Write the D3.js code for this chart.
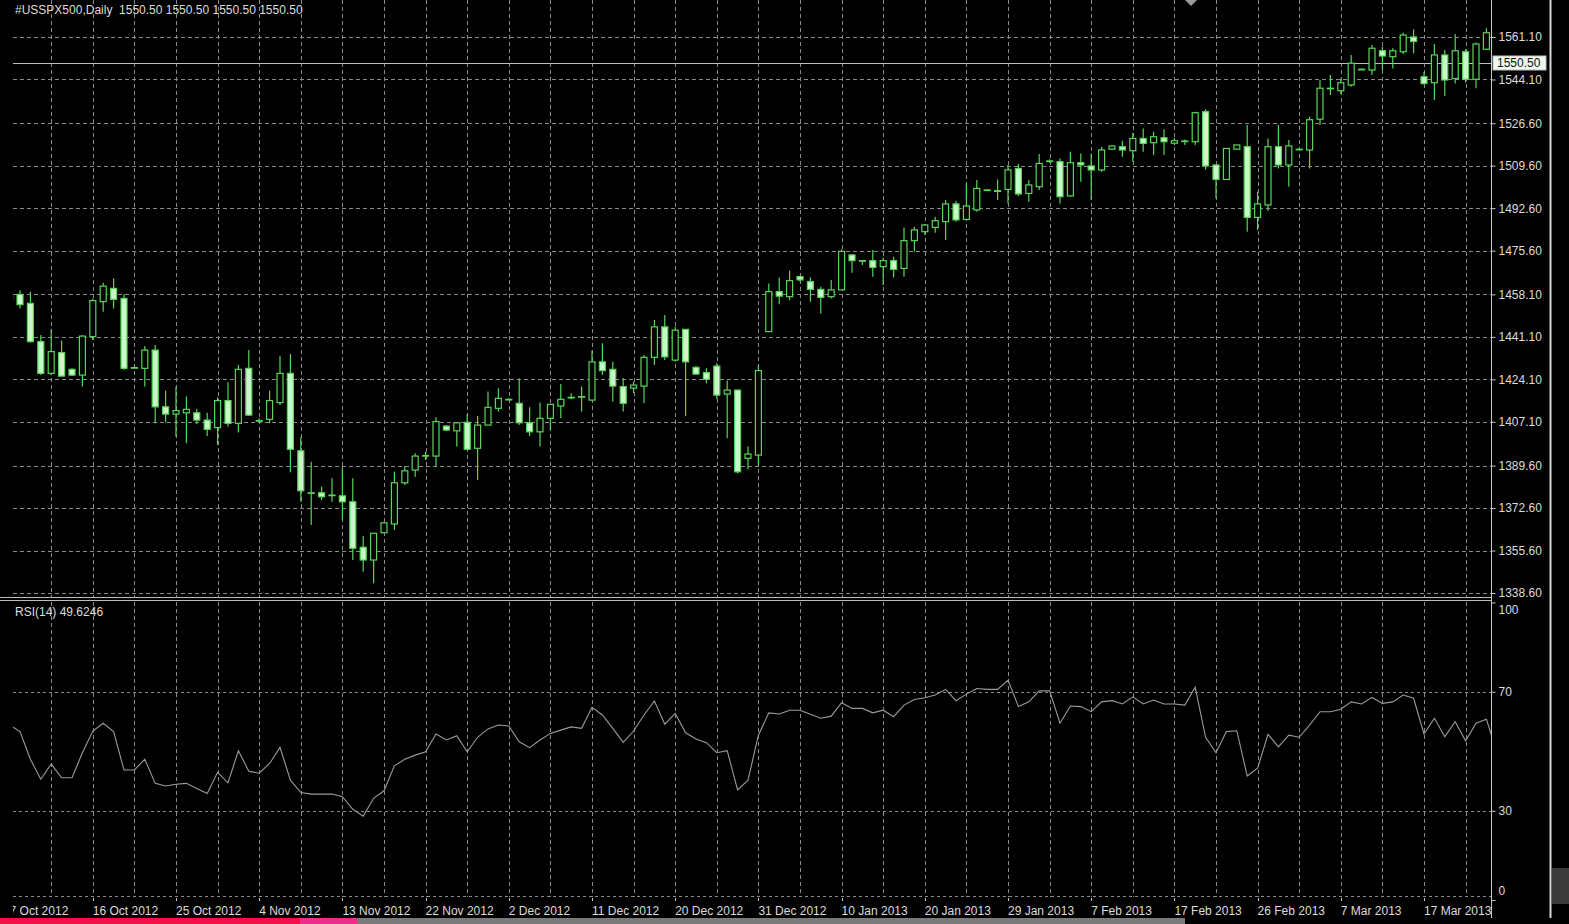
<!DOCTYPE html>
<html><head><meta charset="utf-8">
<script src="https://cdn.jsdelivr.net/npm/d3@7/dist/d3.min.js"></script>
<style>
html,body{margin:0;padding:0;background:#000;overflow:hidden}
svg{display:block}
text{font-family:"Liberation Sans",Arial,sans-serif}
</style></head><body>
<svg id="chart" width="1569" height="924"></svg>
<script>
// ---------------- DATA ----------------
const symbolTitle = "#USSPX500,Daily  1550.50 1550.50 1550.50 1550.50";
const rsiTitle = "RSI(14) 49.6246";
const lastPrice = 1550.50;

// one entry per daily bar (first bar is cut by the left edge, last is the live bar past the right edge)
const opens = [1456.0,
1458.1,1454.5,1439.2,1426.5,1434.8,1428.1,1425.8,1441.2,1455.2,1460.5,
1456.5,1428.8,1428.5,1435.8,1413.1,1410.2,1410.7,1410.7,1407.8,1404.8,
1415.6,1406.5,1428.5,1407.6,1408.1,1414.8,1426.5,1395.5,1378.7,1378.7,
1377.8,1377.5,1375.1,1356.9,1351.8,1362.7,1366.2,1382.7,1387.8,1393.6,
1393.4,1405.4,1403.5,1406.9,1396.5,1405.8,1412.5,1416.1,1414.5,1406.7,
1403.1,1408.5,1413.4,1416.9,1417.2,1415.8,1431.1,1428.1,1421.2,1420.6,
1421.4,1432.9,1445.1,1431.8,1444.1,1428.9,1426.8,1429.4,1418.2,1419.8,
1392.5,1393.8,1443.2,1459.2,1457.2,1465.2,1463.2,1460.1,1457.2,1459.9,
1473.9,1471.6,1471.6,1469.2,1471.6,1468.5,1479.6,1483.2,1484.9,1487.2,
1494.3,1488.1,1491.9,1499.9,1499.6,1500.1,1508.5,1498.5,1501.2,1511.5,
1511.2,1497.5,1510.8,1509.5,1507.9,1516.2,1517.2,1515.6,1520.5,1518.8,
1520.8,1518.6,1519.5,1519.2,1531.2,1509.9,1504.1,1516.2,1517.2,1488.9,
1493.9,1517.2,1509.9,1516.2,1515.9,1528.2,1540.6,1539.6,1541.9,1548.2,
1547.9,1555.6,1553.2,1555.2,1561.1,1545.2,1542.8,1553.9,1544.5,1555.2,
1544.2,1556.2,
1550.5];
const highs = [1461.0,
1459.8,1459.2,1441.8,1444.1,1439.6,1428.5,1441.8,1456.5,1462.8,1464.5,
1458.2,1429.4,1437.4,1437.8,1419.5,1421.2,1417.2,1412.2,1410.7,1416.9,
1422.9,1429.8,1435.8,1408.5,1419.5,1433.4,1434.2,1400.9,1391.1,1381.1,
1384.5,1388.9,1384.5,1361.4,1362.5,1366.7,1387.1,1389.4,1394.5,1395.1,
1408.9,1405.7,1406.7,1410.2,1409.4,1419.2,1420.5,1416.5,1424.5,1412.9,
1414.8,1414.1,1422.2,1418.5,1421.2,1435.6,1438.5,1431.1,1424.5,1423.2,
1433.8,1447.8,1449.8,1445.1,1444.1,1429.4,1428.5,1430.5,1423.6,1420.0,
1397.2,1429.8,1462.5,1464.9,1467.6,1465.5,1464.9,1461.2,1463.9,1476.2,
1473.9,1471.8,1475.9,1472.9,1473.2,1484.9,1485.2,1486.3,1489.2,1495.9,
1495.6,1502.5,1503.9,1500.3,1504.1,1509.9,1510.3,1503.9,1514.3,1512.2,
1512.5,1515.2,1514.5,1514.5,1517.2,1517.6,1519.6,1522.8,1524.5,1523.2,
1524.2,1520.7,1520.1,1531.2,1532.2,1509.9,1516.5,1517.9,1525.9,1499.2,
1520.5,1525.9,1519.9,1516.5,1529.2,1543.9,1545.9,1544.5,1553.9,1548.5,
1557.9,1557.2,1556.6,1562.8,1564.2,1547.2,1558.3,1555.9,1562.3,1556.2,
1558.9,1564.6,
1550.5];
const lows = [1450.0,
1452.5,1438.8,1425.8,1425.8,1425.2,1425.4,1421.2,1439.8,1451.2,1452.5,
1427.8,1428.5,1421.2,1406.5,1406.8,1401.1,1398.5,1406.2,1401.4,1397.8,
1405.2,1402.8,1409.4,1407.1,1406.5,1413.8,1386.9,1375.1,1365.8,1375.8,
1375.1,1368.0,1351.8,1347.1,1342.5,1362.7,1363.8,1381.8,1385.1,1391.8,
1389.1,1403.4,1397.2,1396.1,1383.8,1405.8,1411.2,1415.9,1405.8,1401.4,
1397.2,1403.8,1408.5,1416.1,1411.2,1415.6,1425.8,1415.2,1411.2,1418.6,
1414.5,1429.8,1431.8,1431.1,1409.4,1426.2,1422.5,1416.1,1400.5,1386.5,
1388.1,1389.1,1443.2,1454.2,1455.8,1463.2,1455.2,1450.5,1456.5,1459.9,
1466.8,1469.9,1465.2,1461.8,1464.9,1465.2,1475.2,1481.9,1482.8,1479.9,
1487.2,1488.1,1491.2,1499.5,1495.9,1494.5,1497.5,1495.2,1499.9,1510.8,
1494.5,1497.2,1503.2,1495.9,1507.2,1515.9,1513.2,1511.2,1515.2,1513.9,
1513.9,1517.9,1517.9,1517.9,1508.1,1496.5,1503.9,1516.2,1483.2,1483.9,
1491.6,1508.5,1501.2,1516.0,1508.5,1525.9,1537.9,1538.3,1541.2,1547.9,
1545.9,1547.9,1548.5,1554.3,1554.6,1541.9,1535.9,1537.5,1542.5,1542.8,
1540.6,1555.9,
1550.5];
const closes = [1458.0,
1454.0,1439.2,1426.5,1435.2,1425.4,1425.8,1441.4,1455.6,1461.4,1456.1,
1428.5,1428.8,1435.8,1413.1,1410.2,1411.6,1412.1,1407.8,1404.1,1415.6,
1406.5,1428.1,1409.8,1407.6,1415.6,1426.5,1396.1,1379.5,1378.7,1377.1,
1377.8,1375.1,1356.5,1351.8,1362.5,1366.7,1382.7,1387.5,1393.4,1393.6,
1407.2,1403.8,1406.7,1396.1,1405.8,1412.9,1416.5,1416.1,1406.7,1403.1,
1408.5,1414.1,1416.1,1416.9,1417.2,1431.1,1427.6,1421.4,1414.5,1421.8,
1432.9,1445.1,1433.1,1443.8,1431.1,1426.2,1424.1,1417.8,1419.8,1387.1,
1394.2,1427.6,1459.2,1457.4,1463.6,1463.9,1460.1,1456.9,1459.9,1475.3,
1471.6,1471.6,1468.9,1471.6,1468.1,1479.6,1483.9,1485.9,1487.6,1494.3,
1487.9,1493.5,1500.5,1499.9,1499.3,1507.9,1498.3,1501.9,1510.5,1511.5,
1497.2,1510.8,1509.9,1507.9,1515.9,1517.5,1515.9,1520.5,1518.5,1521.2,
1519.2,1519.6,1519.5,1530.8,1509.5,1504.1,1516.5,1517.9,1488.9,1494.3,
1517.2,1509.9,1517.5,1516.2,1528.0,1540.6,1540.6,1542.8,1550.6,1548.2,
1556.6,1553.5,1555.6,1561.9,1559.3,1542.5,1553.9,1543.9,1555.6,1544.2,
1558.3,1562.8,
1550.5];
const rsiValues = [58.8,
56.6,47.3,40.6,45.7,41.1,41.1,49.5,56.8,59.4,56.6,
43.7,43.7,47.3,39.2,38.3,38.9,39.2,37.5,35.8,42.9,
39.4,50.2,43.3,42.6,45.9,51.3,40.3,36.1,35.6,35.6,
35.6,34.7,30.5,28.2,34.2,36.7,45.1,47.3,48.7,49.8,
55.8,53.8,55.2,49.8,54.7,57.5,58.8,58.5,53.2,51.2,
53.8,56.0,57.1,58.2,57.7,64.8,62.2,57.7,53.0,56.8,
62.2,66.9,59.1,62.7,56.2,54.1,52.9,49.5,50.2,37.0,
40.3,55.4,62.9,62.5,63.8,63.8,62.4,61.1,61.8,66.3,
64.4,64.4,62.9,63.8,61.6,65.5,67.4,68.0,68.9,70.8,
67.0,69.2,71.1,70.8,70.8,73.9,65.0,66.6,70.3,70.3,
59.4,65.2,65.0,63.3,66.6,67.0,65.9,68.3,65.9,67.2,
65.9,65.9,65.5,71.5,54.7,49.5,56.6,56.9,41.7,44.3,
55.7,51.5,55.4,54.7,58.8,63.3,63.3,64.1,66.6,65.9,
68.1,66.1,66.6,68.9,67.8,55.8,61.1,54.9,59.9,53.5,
59.4,60.8,
49.6246];

const priceTicks = [1338.60,1355.60,1372.60,1389.60,1407.10,1424.10,1441.10,1458.10,1475.60,1492.60,1509.60,1526.60,1544.10,1561.10];
const rsiTicks = [0,30,70,100];
const rsiLevels = [30,70];
const dateLabels = ["7 Oct 2012","16 Oct 2012","25 Oct 2012","4 Nov 2012","13 Nov 2012","22 Nov 2012","2 Dec 2012","11 Dec 2012","20 Dec 2012","31 Dec 2012","10 Jan 2013","20 Jan 2013","29 Jan 2013","7 Feb 2013","17 Feb 2013","26 Feb 2013","7 Mar 2013","17 Mar 2013"];
const dateLabelBars = [0,8,16,24,32,40,48,56,64,72,80,88,96,104,112,120,128,136];

// ---------------- LAYOUT ----------------
const W = 1569, H = 924;
const plotL = 13, plotR = 1491;
const priceTop = 0, priceBot = 597, rsiTop = 602, rsiBot = 897;
const GREEN = "#58d558", BEAR_FILL = "#c8f7c8", GRID = "#8a8a8a", TXT = "#dcdcdc";

const n = opens.length;
const bars = d3.range(n).map(i => ({i, o: opens[i], h: highs[i], l: lows[i], c: closes[i], r: rsiValues[i]}));

const x = d3.scaleLinear().domain([0, n - 1]).range([9.6, 9.6 + 10.4 * (n - 1)]);
const y = d3.scaleLinear().domain([1338.6, 1561.1]).range([593, 37]);
const yr = d3.scaleLinear().domain([0, 100]).range([900, 602.5]);

const svg = d3.select("#chart");
svg.append("rect").attr("width", W).attr("height", H).attr("fill", "#000");

const defs = svg.append("defs");
defs.append("clipPath").attr("id", "clipPrice").append("rect")
  .attr("x", plotL).attr("y", priceTop).attr("width", plotR - plotL).attr("height", priceBot - priceTop);
defs.append("clipPath").attr("id", "clipRsi").append("rect")
  .attr("x", plotL).attr("y", rsiTop).attr("width", plotR - plotL).attr("height", rsiBot - rsiTop);
defs.append("clipPath").attr("id", "clipDates").append("rect")
  .attr("x", plotL).attr("y", 898).attr("width", plotR - plotL).attr("height", 22);

// ---- grid: price panel
const gPrice = svg.append("g").attr("clip-path", "url(#clipPrice)");
gPrice.selectAll("line.hg").data(priceTicks).join("line")
  .attr("x1", plotL).attr("x2", plotR)
  .attr("y1", d => Math.round(y(d)) + 0.5).attr("y2", d => Math.round(y(d)) + 0.5)
  .attr("stroke", GRID).attr("stroke-dasharray", "4,3");
const vGridBars = d3.range(0, n, 4);
gPrice.selectAll("line.vg").data(vGridBars).join("line")
  .attr("x1", d => Math.round(x(d)) + 0.5).attr("x2", d => Math.round(x(d)) + 0.5)
  .attr("y1", priceTop).attr("y2", priceBot)
  .attr("stroke", GRID).attr("stroke-dasharray", "4,3");

// ---- current price line
gPrice.append("line")
  .attr("x1", plotL).attr("x2", plotR)
  .attr("y1", Math.round(y(lastPrice)) + 0.5).attr("y2", Math.round(y(lastPrice)) + 0.5)
  .attr("stroke", "#bfbfbf").attr("stroke-width", 1);

// ---- candles
const cg = gPrice.selectAll("g.candle").data(bars).join("g");
cg.append("line")
  .attr("x1", d => x(d.i)).attr("x2", d => x(d.i))
  .attr("y1", d => y(d.h)).attr("y2", d => y(d.l))
  .attr("stroke", GREEN).attr("stroke-width", 1.2);
cg.append("rect")
  .attr("x", d => x(d.i) - 3)
  .attr("width", 6)
  .attr("y", d => y(Math.max(d.o, d.c)))
  .attr("height", d => Math.max(0.6, Math.abs(y(d.o) - y(d.c))))
  .attr("fill", d => d.c >= d.o ? "#000" : BEAR_FILL)
  .attr("stroke", GREEN).attr("stroke-width", 1.2);

// ---- RSI panel
const gRsi = svg.append("g").attr("clip-path", "url(#clipRsi)");
gRsi.selectAll("line.lv").data(rsiLevels).join("line")
  .attr("x1", plotL).attr("x2", plotR)
  .attr("y1", d => Math.round(yr(d)) + 0.5).attr("y2", d => Math.round(yr(d)) + 0.5)
  .attr("stroke", GRID).attr("stroke-dasharray", "3,3");
gRsi.selectAll("line.vg").data(vGridBars).join("line")
  .attr("x1", d => Math.round(x(d)) + 0.5).attr("x2", d => Math.round(x(d)) + 0.5)
  .attr("y1", rsiTop).attr("y2", rsiBot)
  .attr("stroke", GRID).attr("stroke-dasharray", "4,3");
gRsi.append("path")
  .datum(bars)
  .attr("d", d3.line().x(d => x(d.i)).y(d => yr(d.r)))
  .attr("fill", "none").attr("stroke", "#9a9a9a").attr("stroke-width", 1.1);

// ---- panel separator
svg.append("line").attr("x1", 0).attr("x2", plotR).attr("y1", 597.5).attr("y2", 597.5).attr("stroke", "#bdbdbd");
svg.append("line").attr("x1", 0).attr("x2", plotR).attr("y1", 600.5).attr("y2", 600.5).attr("stroke", "#bdbdbd");

// ---- bottom border of rsi panel
svg.append("line").attr("x1", plotL).attr("x2", plotR).attr("y1", 896.5).attr("y2", 896.5)
  .attr("stroke", GRID).attr("stroke-dasharray", "3,3");

// ---- price axis
const axP = svg.append("g").attr("transform", `translate(${plotR + 0.5},0)`)
  .call(d3.axisRight(y).tickValues(priceTicks).tickSize(4).tickPadding(3).tickFormat(d3.format(".2f")));
axP.select(".domain").remove();
axP.selectAll(".tick line").attr("stroke", "#c8c8c8");
axP.selectAll(".tick text").attr("fill", TXT).style("font-size", "12px").style("font-family", "Liberation Sans, Arial, sans-serif");

// ---- rsi axis
const axR = svg.append("g").attr("transform", `translate(${plotR + 0.5},0)`)
  .call(d3.axisRight(yr).tickValues(rsiTicks).tickSize(4).tickPadding(3).tickFormat(d3.format("d")));
axR.select(".domain").remove();
axR.selectAll(".tick line").attr("stroke", "#c8c8c8");
axR.selectAll(".tick text").attr("fill", TXT).style("font-size", "12px").style("font-family", "Liberation Sans, Arial, sans-serif")
  .attr("dy", d => d === 100 ? "0.9em" : d === 0 ? "-0.45em" : "0.32em");

// axis vertical line
svg.append("line").attr("x1", plotR + 0.5).attr("x2", plotR + 0.5).attr("y1", 0).attr("y2", 918).attr("stroke", "#c8c8c8");
// window border on the right
svg.append("line").attr("x1", 1550.5).attr("x2", 1550.5).attr("y1", 0).attr("y2", 918).attr("stroke", "#d8d8d8").attr("stroke-width", 2);

// ---- current price tag
const tagY = Math.round(y(lastPrice));
svg.append("rect").attr("x", 1493).attr("y", tagY - 7).attr("width", 53).attr("height", 14)
  .attr("fill", "#eef8ee").attr("stroke", "#bfbfbf");
svg.append("text").attr("x", 1497).attr("y", tagY).attr("dy", "0.35em")
  .attr("fill", "#111").style("font-size", "12px").text(d3.format(".2f")(lastPrice));

// ---- date axis
const gDates = svg.append("g").attr("clip-path", "url(#clipDates)");
gDates.selectAll("line").data(dateLabelBars).join("line")
  .attr("x1", d => Math.round(x(d)) + 0.5).attr("x2", d => Math.round(x(d)) + 0.5)
  .attr("y1", 897).attr("y2", 901).attr("stroke", "#c8c8c8");
gDates.selectAll("text").data(dateLabelBars).join("text")
  .attr("x", d => x(d)).attr("y", 915)
  .attr("fill", TXT).style("font-size", "12px")
  .text((d, i) => dateLabels[i]);

// ---- titles
svg.append("text").attr("x", 15).attr("y", 14).attr("fill", TXT).style("font-size", "12px")
  .attr("xml:space", "preserve").style("white-space", "pre").text(symbolTitle);
svg.append("text").attr("x", 15).attr("y", 616).attr("fill", TXT).style("font-size", "12px").text(rsiTitle);

// chart-shift marker
svg.append("path").attr("d", "M1185,0 L1197,0 L1191,6 Z").attr("fill", "#9a9a9a");

// small icon in the bottom-right corner
svg.append("rect").attr("x", 1552).attr("y", 868).attr("width", 17).attr("height", 36).attr("fill", "#3a3a3a");

// video progress bar at the very bottom
svg.append("rect").attr("x", 0).attr("y", 918).attr("width", 300).attr("height", 6).attr("fill", "#f0104a");
svg.append("rect").attr("x", 300).attr("y", 918).attr("width", 57).attr("height", 6).attr("fill", "#e8308a");
svg.append("rect").attr("x", 357).attr("y", 918).attr("width", 828).attr("height", 6).attr("fill", "#7a7a7a");
</script>
</body></html>
